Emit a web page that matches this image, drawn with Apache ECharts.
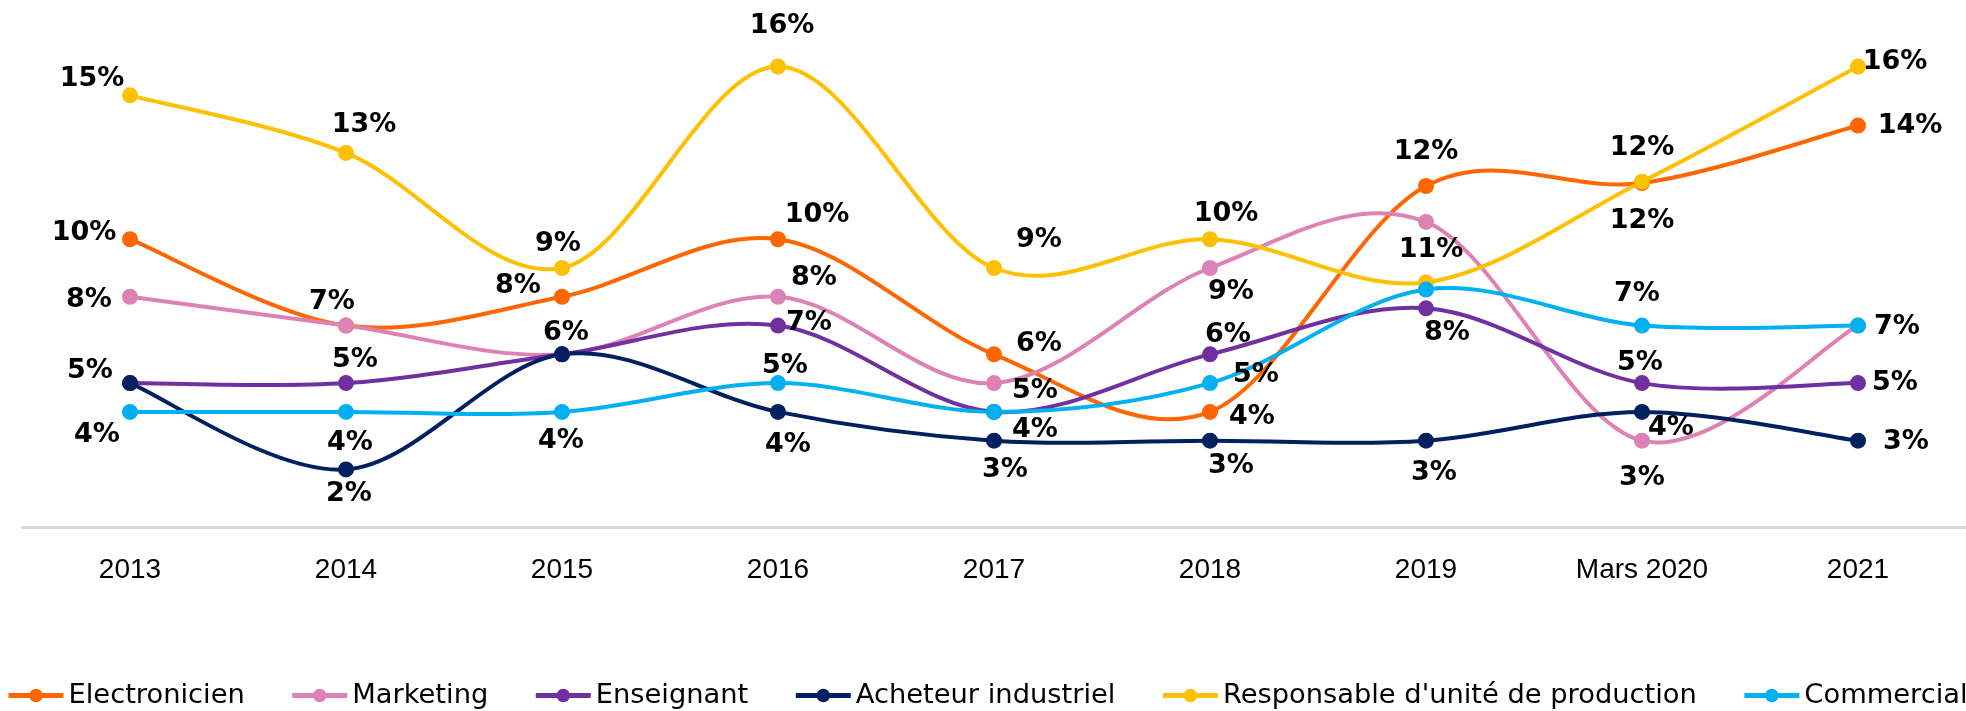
<!DOCTYPE html>
<html>
<head>
<meta charset="utf-8">
<script src="https://cdn.jsdelivr.net/npm/echarts@6/dist/echarts.min.js"></script>
<style>
  html, body { margin: 0; padding: 0; background: #fff; }
  #chart { width: 1966px; height: 711px; }
</style>
</head>
<body>
<div id="chart"></div>
<script>
// categories
var categories = ['2013', '2014', '2015', '2016', '2017', '2018', '2019', 'Mars 2020', '2021'];

// series values (%)
var electronicien = [10, 7, 8, 10, 6, 4, 11.85, 11.95, 13.95];
var marketing = [8, 7, 6, 8, 5, 9, 10.6, 3, 7];
var enseignant = [5, 5, 6, 7, 4, 6, 7.6, 5, 5];
var acheteur = [5, 2, 6, 4, 3, 3, 3, 4, 3];
var responsable = [15, 13, 9, 16, 9, 10, 8.5, 12, 16];
var commercial = [4, 4, 4, 5, 4, 5, 8.25, 7, 7];

// label placement per point (offset from the marker, null = no label)
var labelOffsets = {
    'Electronicien': [[-46, -6], [-14, -24], [-44, -11], [39, -24], [45, -10], [42, 5], [0, -34], [0, -35], [52, 0]],
    'Marketing': [[-41, 3], null, null, [36, -19], [41, 8], [21, 24], [5, 28], [0, 37], null],
    'Enseignant': [null, [9, -23], null, [31, -3], null, [18, -19], [21, 25], [-2, -20], [37, 0]],
    'Acheteur industriel': [[-40, -12], [3, 25], [4, -21], [10, 33], [11, 29], [21, 25], [8, 32], [29, 16], [48, 1]],
    "Responsable d'unité de production": [[-38, -16], [18, -28], [-4, -24], [4, -41], [45, -28], [16, -25], null, [0, 39], [37, -5]],
    'Commercial': [[-33, 23], [4, 31], [-1, 29], [7, -17], [41, 18], [46, -8], null, [-5, -32], [39, 1]]
};

var seriesList = [
    { name: 'Electronicien', data: electronicien, color: '#FF6600' },
    { name: 'Marketing', data: marketing, color: '#DE82B6' },
    { name: 'Enseignant', data: enseignant, color: '#7030A0' },
    { name: 'Acheteur industriel', data: acheteur, color: '#002060' },
    { name: "Responsable d'unité de production", data: responsable, color: '#FFC000' },
    { name: 'Commercial', data: commercial, color: '#00B0F0' }
];

// Excel-like smoothed line (Catmull-Rom as bezier segments), positions from the axes
function curveRenderer(values, color) {
    return function (params, api) {
        var pts = values.map(function (v, i) { return api.coord([i, v]); });
        var n = pts.length;
        var children = [];
        for (var i = 0; i < n - 1; i++) {
            var p0 = pts[Math.max(i - 1, 0)];
            var p1 = pts[i];
            var p2 = pts[i + 1];
            var p3 = pts[Math.min(i + 2, n - 1)];
            children.push({
                type: 'bezierCurve',
                shape: {
                    x1: p1[0], y1: p1[1],
                    x2: p2[0], y2: p2[1],
                    cpx1: p1[0] + (p2[0] - p0[0]) / 6,
                    cpy1: p1[1] + (p2[1] - p0[1]) / 6,
                    cpx2: p2[0] - (p3[0] - p1[0]) / 6,
                    cpy2: p2[1] - (p3[1] - p1[1]) / 6
                },
                style: { stroke: color, lineWidth: 4, fill: null, lineCap: 'round' }
            });
        }
        return { type: 'group', children: children };
    };
}

var series = [];
seriesList.forEach(function (s) {
    var offs = labelOffsets[s.name];
    series.push({
        name: s.name + ' (courbe)',
        type: 'custom',
        silent: true,
        renderItem: curveRenderer(s.data, s.color),
        data: [0]
    });
    series.push({
        name: s.name,
        type: 'line',
        symbol: 'circle',
        symbolSize: 16,
        color: s.color,
        lineStyle: { width: 0, color: s.color },
        itemStyle: { color: s.color },
        label: {
            show: true,
            position: 'inside',
            fontFamily: 'DejaVu Sans',
            fontWeight: 'bold',
            fontSize: 27,
            color: '#000',
            formatter: function (p) { return Math.round(p.value) + '%'; }
        },
        data: s.data.map(function (v, i) {
            var o = offs[i];
            return o ? { value: v, label: { offset: o } } : { value: v, label: { show: false } };
        })
    });
});

var myChart = echarts.init(document.getElementById('chart'));

var option = {
    animation: false,
    backgroundColor: '#fff',
    grid: {
        top: 9,
        bottom: 184,
        left: 22,
        right: -16
    },
    legend: {
        top: 682,
        left: 6,
        width: 2100,
        padding: 0,
        itemGap: 45,
        itemWidth: 55,
        itemHeight: 17,
        lineStyle: { width: 5 },
        textStyle: {
            fontFamily: 'DejaVu Sans',
            fontSize: 27.3,
            color: '#000'
        },
        data: seriesList.map(function (s) { return s.name; })
    },
    xAxis: {
        type: 'category',
        boundaryGap: true,
        data: categories,
        axisTick: { show: false },
        axisLine: {
            lineStyle: { color: '#d9d9d9', width: 3 }
        },
        axisLabel: {
            margin: 29,
            fontFamily: 'Liberation Sans',
            fontSize: 28,
            color: '#000'
        }
    },
    yAxis: {
        type: 'value',
        min: 0,
        max: 18,
        show: false
    },
    series: series
};
myChart.setOption(option, true);
</script>
</body>
</html>
